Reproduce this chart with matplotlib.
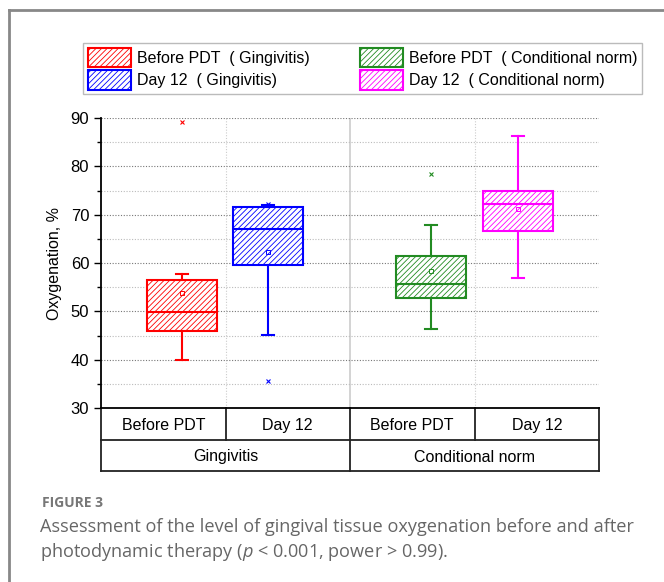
import numpy as np
import matplotlib.pyplot as plt
from matplotlib.patches import Patch
from matplotlib.lines import Line2D
import matplotlib.transforms as mtransforms

plt.rcParams['font.family'] = ['Liberation Sans', 'DejaVu Sans']
plt.rcParams['hatch.linewidth'] = 0.6
plt.rcParams['mathtext.fontset'] = 'custom'
plt.rcParams['mathtext.it'] = 'Open Sans:italic'
plt.rcParams['mathtext.rm'] = 'Open Sans'

# values (Oxygenation, %)
labels = ['Before PDT  ( Gingivitis)', 'Day 12  ( Gingivitis)',
          'Before PDT  ( Conditional norm)', 'Day 12  ( Conditional norm)']
colors = ['#ff0000', '#0000ff', '#228b22', '#ff00ff']
whislo = [39.9, 45.2, 46.3, 57.0]
q1 = [45.9, 59.6, 52.8, 66.6]
med = [49.8, 67.1, 55.7, 72.2]
q3 = [56.4, 71.5, 61.5, 74.9]
whishi = [57.7, 72.0, 67.8, 86.3]
means = [53.8, 62.3, 58.4, 71.2]
fliers = [[89.1], [35.5, 72.2], [78.4], []]

sub_labels = ['Before PDT', 'Day 12', 'Before PDT', 'Day 12']
group_labels = ['Gingivitis', 'Conditional norm']

positions = [0.65, 1.34, 2.65, 3.35]

fig = plt.figure(figsize=(6.64, 5.82), dpi=100)
ax = fig.add_axes([101/664, 1 - 408/582, 498/664, 290/582])

stats = []
for i in range(4):
    stats.append(dict(whislo=whislo[i], q1=q1[i], med=med[i], q3=q3[i],
                      whishi=whishi[i], mean=means[i], fliers=fliers[i]))

for i, st in enumerate(stats):
    c = colors[i]
    ax.bxp([st], positions=[positions[i]], widths=0.56, capwidths=0.1,
           patch_artist=True, showmeans=True,
           boxprops=dict(facecolor='white', edgecolor=c, hatch='//////', linewidth=1.5),
           medianprops=dict(color=c, linewidth=1.5),
           whiskerprops=dict(color=c, linewidth=1.5),
           capprops=dict(color=c, linewidth=1.5),
           meanprops=dict(marker='s', markersize=3, markerfacecolor='none',
                          markeredgecolor=c, markeredgewidth=0.7),
           flierprops=dict(marker='x', markersize=3.5, markeredgecolor=c,
                           markeredgewidth=0.8))

ax.set_xlim(0, 4)
ax.set_ylim(30, 90)
ax.set_yticks(np.arange(30, 91, 10))
ax.set_yticks(np.arange(35, 90, 10), minor=True)
ax.tick_params(axis='y', which='major', direction='out', length=5, width=1, labelsize=12)
ax.tick_params(axis='y', which='minor', direction='out', length=3, width=1)
ax.set_xticks([])
ax.grid(axis='y', which='major', linestyle=(0, (1, 1.5)), color='#777777', linewidth=0.8)
ax.grid(axis='y', which='minor', linestyle=(0, (1, 1.5)), color='#bbbbbb', linewidth=0.8)
ax.set_axisbelow(True)
for x in [1, 3]:
    ax.axvline(x, color='#cccccc', linestyle=(0, (1, 1.5)), linewidth=0.8, zorder=0)
ax.axvline(2, color='#cccccc', linewidth=1.2, zorder=0)
for s in ['top', 'right']:
    ax.spines[s].set_visible(False)
ax.spines['left'].set_linewidth(1.3)
ax.spines['bottom'].set_linewidth(1.3)
ax.set_ylabel('Oxygenation, %', fontsize=11.5, labelpad=6)

# category table under the axis
trans = mtransforms.blended_transform_factory(ax.transData, ax.transAxes)
r1 = -32/290
r2 = -63/290
kw = dict(transform=trans, color='#222222', linewidth=1.3, clip_on=False)
ax.add_line(Line2D([0, 4], [r1, r1], **kw))
ax.add_line(Line2D([0, 4], [r2, r2], **kw))
for x in [0, 2, 4]:
    ax.add_line(Line2D([x, x], [0, r2], **kw))
for x in [1, 3]:
    ax.add_line(Line2D([x, x], [0, r1], **kw))
for i, lab in enumerate(sub_labels):
    ax.text(i + 0.5, r1 / 2, lab, transform=trans, ha='center',
            va='center_baseline', fontsize=11.5)
for i, lab in enumerate(group_labels):
    ax.text(2 * i + 1, (r1 + r2) / 2, lab, transform=trans, ha='center',
            va='center_baseline', fontsize=11.5)

# legend
handles = [Patch(facecolor='white', edgecolor=c, hatch='//////', linewidth=1.5) for c in colors]
leg = fig.legend(handles, labels, ncol=2,
                 loc='upper left', bbox_to_anchor=(83/664, 1 - 43/582), fontsize=11.5,
                 frameon=True, fancybox=False, edgecolor='#aaaaaa',
                 handlelength=2.7, handleheight=1.5, handletextpad=0.35,
                 columnspacing=3.2, labelspacing=0.18, borderpad=0.3, borderaxespad=0)
leg.get_frame().set_linewidth(1.0)

# page frame
fig.add_artist(Line2D([9/664, 9/664], [0, 1 - 10/582], color='#888888', linewidth=2))
fig.add_artist(Line2D([9/664, 1], [1 - 10/582, 1 - 10/582], color='#888888', linewidth=2))

# caption
fig.text(42/664, 1 - 503/582, 'FIGURE 3', fontsize=10, color='#777777',
         family=['Open Sans', 'DejaVu Sans'], weight='bold', va='center')
fig.text(40/664, 1 - 527/582,
         'Assessment of the level of gingival tissue oxygenation before and after',
         fontsize=13.1, color='#666666', family=['Open Sans', 'DejaVu Sans'], va='center')
fig.text(40/664, 1 - 552/582,
         r'photodynamic therapy ($p$ < 0.001, power > 0.99).',
         fontsize=13.1, color='#666666', family=['Open Sans', 'DejaVu Sans'], va='center')

fig.savefig('out.png', dpi=100)
